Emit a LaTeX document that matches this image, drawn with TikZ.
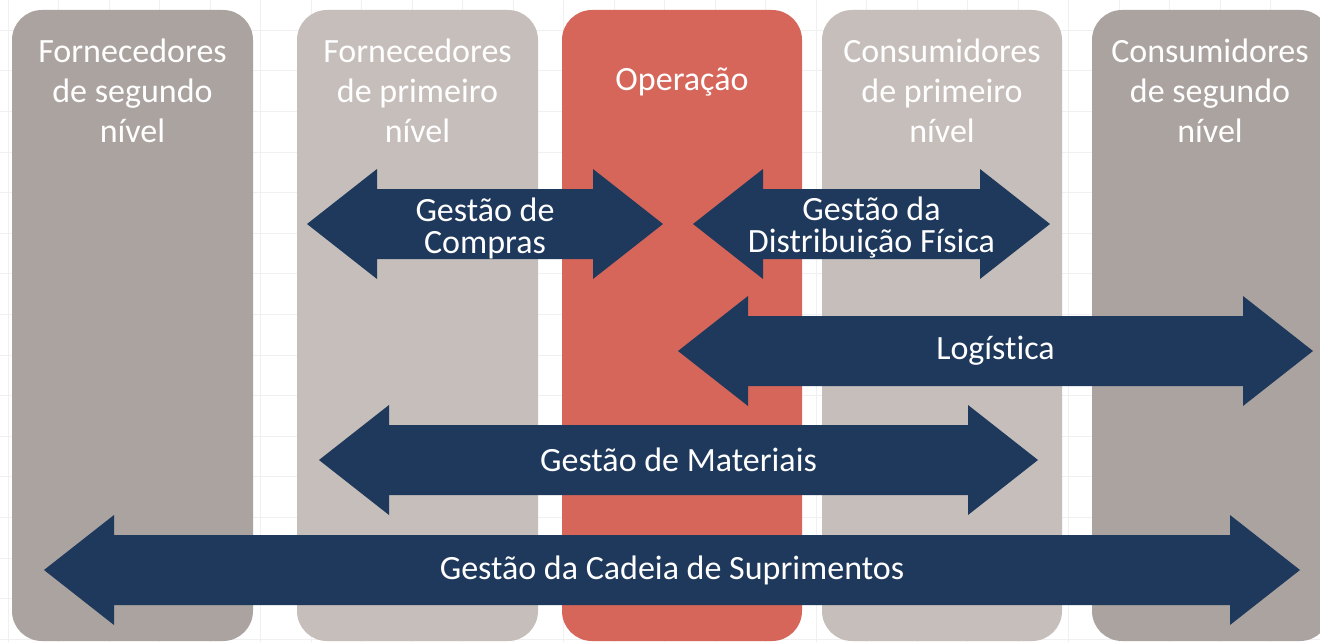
\documentclass[tikz,border=0pt]{standalone}
\usepackage{fontspec}
\setmainfont{Carlito}[Ligatures=NoCommon]
\usetikzlibrary{positioning}

\definecolor{tierdark}{RGB}{170,163,160}
\definecolor{tierlight}{RGB}{198,190,186}
\definecolor{opred}{RGB}{214,102,90}
\definecolor{flownavy}{RGB}{31,57,92}
\definecolor{gridgray}{RGB}{240,240,240}

% [label options] left tip x, right tip x, centre y, name, label
\newcommand{\flowarrow}[6][]{%
  \fill[flownavy] (#2,#4) -- ({#2+70},{#4-55}) -- ({#2+70},{#4-35})
      -- ({#3-70},{#4-35}) -- ({#3-70},{#4-55}) -- (#3,#4)
      -- ({#3-70},{#4+55}) -- ({#3-70},{#4+35}) -- ({#2+70},{#4+35})
      -- ({#2+70},{#4+55}) -- cycle;
  \node[flow label,#1] (#5) at ({(#2+#3)/2},#4) {#6};}

\begin{document}
\begin{tikzpicture}
                [x=1pt, y=-1pt,
                tier/.style={rounded corners=30pt},
                tier label/.style={anchor=north,inner sep=0pt,align=center,
                    text=white,font=\fontsize{34}{40}\selectfont},
                flow label/.style={inner sep=0pt,align=center,
                    text=white,font=\fontsize{34}{32}\selectfont},
                ]
                \useasboundingbox (0,0) rectangle (1320,642);
                \fill[white] (0,0) rectangle (1320,642);
                \foreach \gx in {0,...,26}
                    \draw[gridgray] ({8+50.5*\gx},0) -- ++(0,642);
                \foreach \gy in {0,...,15}
                    \draw[gridgray] (0,{30+40.6*\gy}) -- ++(1320,0);

                % tiers of the chain
                \fill[tierdark,tier] (12,10) rectangle (253,641);
                \fill[tierlight,tier] (297,10) rectangle (538,641);
                \fill[opred,tier] (562,10) rectangle (802,641);
                \fill[tierlight,tier] (822,10) rectangle (1062,641);
                \fill[tierdark,tier] (1092,10) rectangle (1330,641);

                \node[tier label] (S2) at (132.5,39) {Fornecedores\\de segundo\\nível};
                \node[tier label] (S1) at (417.5,39) {Fornecedores\\de primeiro\\nível};
                \node[tier label,anchor=base] (Op) at (682,90) {Operação};
                \node[tier label] (C1) at (942,39) {Consumidores\\de primeiro\\nível};
                \node[tier label] (C2) at (1210,39) {Consumidores\\de segundo\\nível};

                % management scopes
                \flowarrow[yshift=-4pt]{307}{663}{224}{Compras}{Gestão de\\Compras}
                \flowarrow[yshift=-4pt]{693}{1050}{224}{Dist}{Gestão da\\Distribuição Física}
                \flowarrow{678}{1313}{351}{Log}{Logística}
                \flowarrow{319}{1038}{460}{Mat}{Gestão de Materiais}
                \flowarrow{44}{1300}{570}{SCM}{Gestão da Cadeia de Suprimentos}
            \end{tikzpicture}
\end{document}
